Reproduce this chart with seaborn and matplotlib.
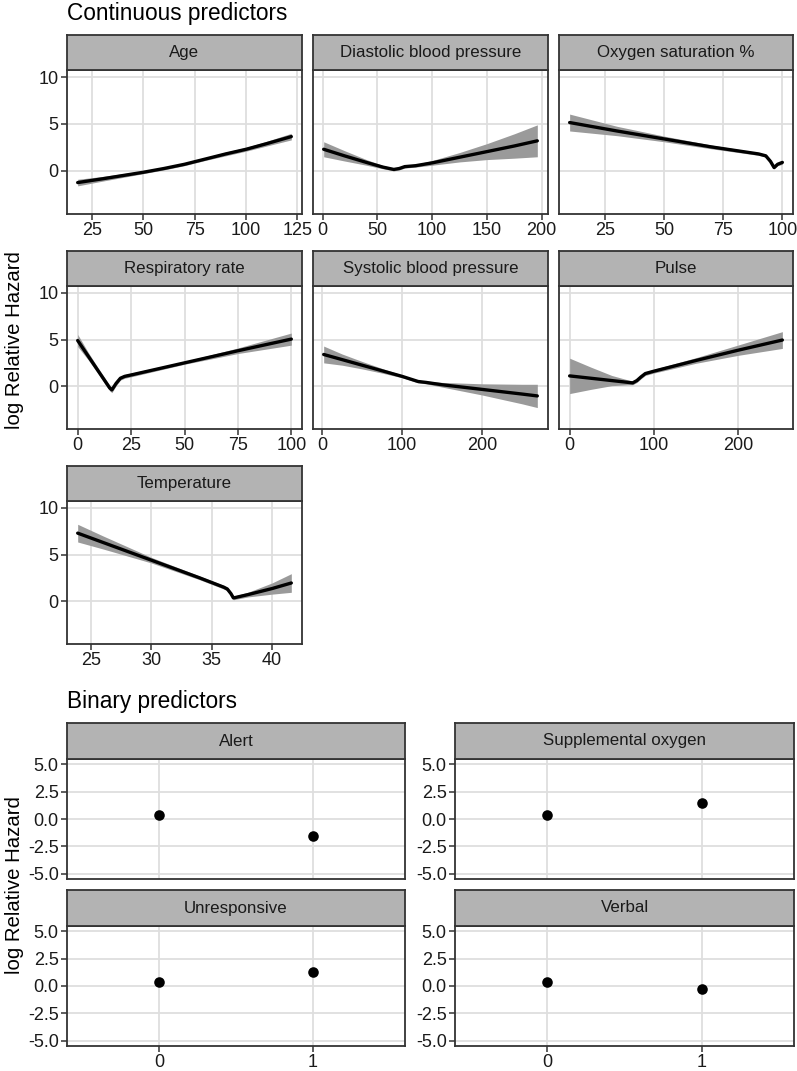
import numpy as np
import pandas as pd
import matplotlib
matplotlib.use("Agg")
import matplotlib.pyplot as plt
import seaborn as sns

sns.set_theme(style="white")
plt.rcParams['font.family'] = ['Liberation Sans', 'DejaVu Sans']

# ---------------- data ----------------
age_x = [18, 30, 40, 50, 60, 70, 80, 90, 100, 110, 122]
age_fit = [-1.25, -0.85, -0.5, -0.15, 0.25, 0.7, 1.25, 1.8, 2.3, 2.9, 3.65]
age_se = [0.35, 0.25, 0.2, 0.15, 0.15, 0.15, 0.15, 0.2, 0.2, 0.25, 0.35]

dia_x = [1, 20, 40, 55, 65, 70, 75, 85, 100, 125, 150, 175, 196]
dia_fit = [2.3, 1.6, 0.9, 0.4, 0.15, 0.25, 0.45, 0.55, 0.85, 1.45, 2.05, 2.65, 3.2]
dia_se = [0.8, 0.55, 0.3, 0.18, 0.15, 0.15, 0.15, 0.15, 0.25, 0.5, 0.85, 1.3, 1.7]

oxy_x = [10, 30, 50, 70, 90, 93, 95, 96.5, 98, 100]
oxy_fit = [5.15, 4.25, 3.4, 2.55, 1.8, 1.6, 1.0, 0.35, 0.7, 0.9]
oxy_se = [0.9, 0.5, 0.3, 0.2, 0.15, 0.15, 0.15, 0.15, 0.15, 0.2]

resp_x = [0, 5, 10, 15, 16, 18, 20, 22, 25, 50, 75, 100]
resp_fit = [4.9, 3.2, 1.5, -0.2, -0.4, 0.3, 0.85, 1.05, 1.2, 2.5, 3.8, 5.05]
resp_se = [0.65, 0.4, 0.3, 0.3, 0.3, 0.25, 0.2, 0.2, 0.2, 0.15, 0.3, 0.65]

sys_x = [2, 25, 50, 75, 100, 120, 130, 150, 200, 250, 269]
sys_fit = [3.4, 2.85, 2.25, 1.65, 1.05, 0.5, 0.4, 0.15, -0.35, -0.85, -1.05]
sys_se = [0.9, 0.6, 0.4, 0.25, 0.15, 0.15, 0.15, 0.25, 0.6, 1.05, 1.25]

pul_x = [0, 25, 50, 70, 75, 80, 85, 90, 100, 150, 200, 253]
pul_fit = [1.1, 0.85, 0.6, 0.4, 0.35, 0.6, 1.0, 1.35, 1.6, 2.75, 3.85, 4.95]
pul_se = [1.9, 1.2, 0.55, 0.25, 0.2, 0.2, 0.2, 0.2, 0.2, 0.3, 0.55, 0.9]

tmp_x = [23.9, 26, 30, 34, 36, 36.3, 36.6, 36.8, 37, 38, 40, 41.6]
tmp_fit = [7.3, 6.3, 4.4, 2.5, 1.5, 1.3, 0.8, 0.35, 0.4, 0.7, 1.35, 1.95]
tmp_se = [0.95, 0.7, 0.3, 0.2, 0.2, 0.2, 0.2, 0.2, 0.2, 0.25, 0.6, 1.0]

cont_names = ["Age", "Diastolic blood pressure", "Oxygen saturation %",
              "Respiratory rate", "Systolic blood pressure", "Pulse", "Temperature"]
cont_ticks = [[25, 50, 75, 100, 125], [0, 50, 100, 150, 200], [25, 50, 75, 100],
              [0, 25, 50, 75, 100], [0, 100, 200], [0, 100, 200], [25, 30, 35, 40]]

bin_names = ["Alert", "Supplemental oxygen", "Unresponsive", "Verbal"]
bin_levels = [0, 1]
bin_alert = [0.4, -1.6]
bin_supp = [0.4, 1.45]
bin_unresp = [0.4, 1.25]
bin_verbal = [0.4, -0.25]

cont_series = [(age_x, age_fit, age_se), (dia_x, dia_fit, dia_se), (oxy_x, oxy_fit, oxy_se),
               (resp_x, resp_fit, resp_se), (sys_x, sys_fit, sys_se), (pul_x, pul_fit, pul_se),
               (tmp_x, tmp_fit, tmp_se)]
bin_series = [bin_alert, bin_supp, bin_unresp, bin_verbal]

# ---------------- layout ----------------
W, H = 797, 1071
fig = plt.figure(figsize=(W / 100, H / 100), dpi=100)
fig.patch.set_facecolor("white")

EDGE = "#333333"
GRID = "#DEDEDE"
STRIP = "#B3B3B3"
TICKSIZE = 13


def make_panel(x0, x1, st, sb, pb, title):
    ax = fig.add_axes([x0 / W, 1 - pb / H, (x1 - x0) / W, (pb - sb) / H])
    sax = fig.add_axes([x0 / W, 1 - sb / H, (x1 - x0) / W, (sb - st) / H])
    sax.set_facecolor(STRIP)
    sax.set_xticks([])
    sax.set_yticks([])
    for s in sax.spines.values():
        s.set_color(EDGE)
        s.set_linewidth(1.3)
        s.set_visible(True)
    sax.text(0.5, 0.5, title, ha="center", va="center", fontsize=12.2, color="#1A1A1A")
    ax.set_facecolor("white")
    for s in ax.spines.values():
        s.set_color(EDGE)
        s.set_linewidth(1.3)
        s.set_visible(True)
    ax.grid(True, color=GRID, linewidth=1.3)
    ax.set_axisbelow(True)
    ax.tick_params(axis="both", which="both", length=4, width=1.1, color=EDGE,
                   labelsize=TICKSIZE, labelcolor="#1A1A1A", pad=2,
                   bottom=True, left=True)
    ax.set_xlabel("")
    ax.set_ylabel("")
    return ax


col_x = [(67, 302), (313, 548), (559, 793)]
row_y = [(35, 70, 214), (251, 286, 429), (466, 501, 644)]

for i, name in enumerate(cont_names):
    r, c = divmod(i, 3)
    x0, x1 = col_x[c]
    st, sb, pb = row_y[r]
    ax = make_panel(x0, x1, st, sb, pb, name)
    xs, fit, se = cont_series[i]
    df = pd.DataFrame({"x": xs, "fit": fit, "se": se})
    df["lo"] = df["fit"] - df["se"]
    df["hi"] = df["fit"] + df["se"]
    ax.fill_between(df["x"], df["lo"], df["hi"], color="#9A9A9A", linewidth=0, zorder=2)
    sns.lineplot(data=df, x="x", y="fit", ax=ax, color="black", linewidth=2.4, zorder=3)
    xmin, xmax = min(xs), max(xs)
    rng = xmax - xmin
    ax.set_xlim(xmin - 0.05 * rng, xmax + 0.05 * rng)
    ax.set_ylim(-4.6, 10.75)
    ax.set_xticks(cont_ticks[i])
    ax.set_yticks([0, 5, 10])
    ax.set_xlabel("")
    ax.set_ylabel("")
    if c != 0:
        ax.tick_params(axis="y", left=False, labelleft=False)

bcol_x = [(67, 405), (455, 794)]
brow_y = [(723, 759, 879), (890, 926, 1046)]
for i, name in enumerate(bin_names):
    r, c = divmod(i, 2)
    x0, x1 = bcol_x[c]
    st, sb, pb = brow_y[r]
    ax = make_panel(x0, x1, st, sb, pb, name)
    df = pd.DataFrame({"level": bin_levels, "value": bin_series[i]})
    sns.scatterplot(data=df, x="level", y="value", ax=ax, color="black", s=58,
                    edgecolor="black", linewidth=0, zorder=3)
    ax.set_xlim(-0.6, 1.6)
    ax.set_ylim(-5.5, 5.5)
    ax.set_xticks([0, 1])
    ax.set_yticks([-5, -2.5, 0, 2.5, 5])
    ax.set_yticklabels(["-5.0", "-2.5", "0.0", "2.5", "5.0"])
    ax.set_xlabel("")
    ax.set_ylabel("")
    if r == 0:
        ax.tick_params(axis="x", bottom=False, labelbottom=False)

fig.text(67 / W, 1 - 2 / H, "Continuous predictors", ha="left", va="top",
         fontsize=16.3, color="black")
fig.text(67 / W, 1 - 690 / H, "Binary predictors", ha="left", va="top",
         fontsize=16.3, color="black")
fig.text(15 / W, 1 - 340 / H, "log Relative Hazard", ha="center", va="center",
         rotation=90, fontsize=14.7, color="black")
fig.text(15 / W, 1 - 885 / H, "log Relative Hazard", ha="center", va="center",
         rotation=90, fontsize=14.7, color="black")

fig.savefig("out.png", dpi=100, facecolor="white")
